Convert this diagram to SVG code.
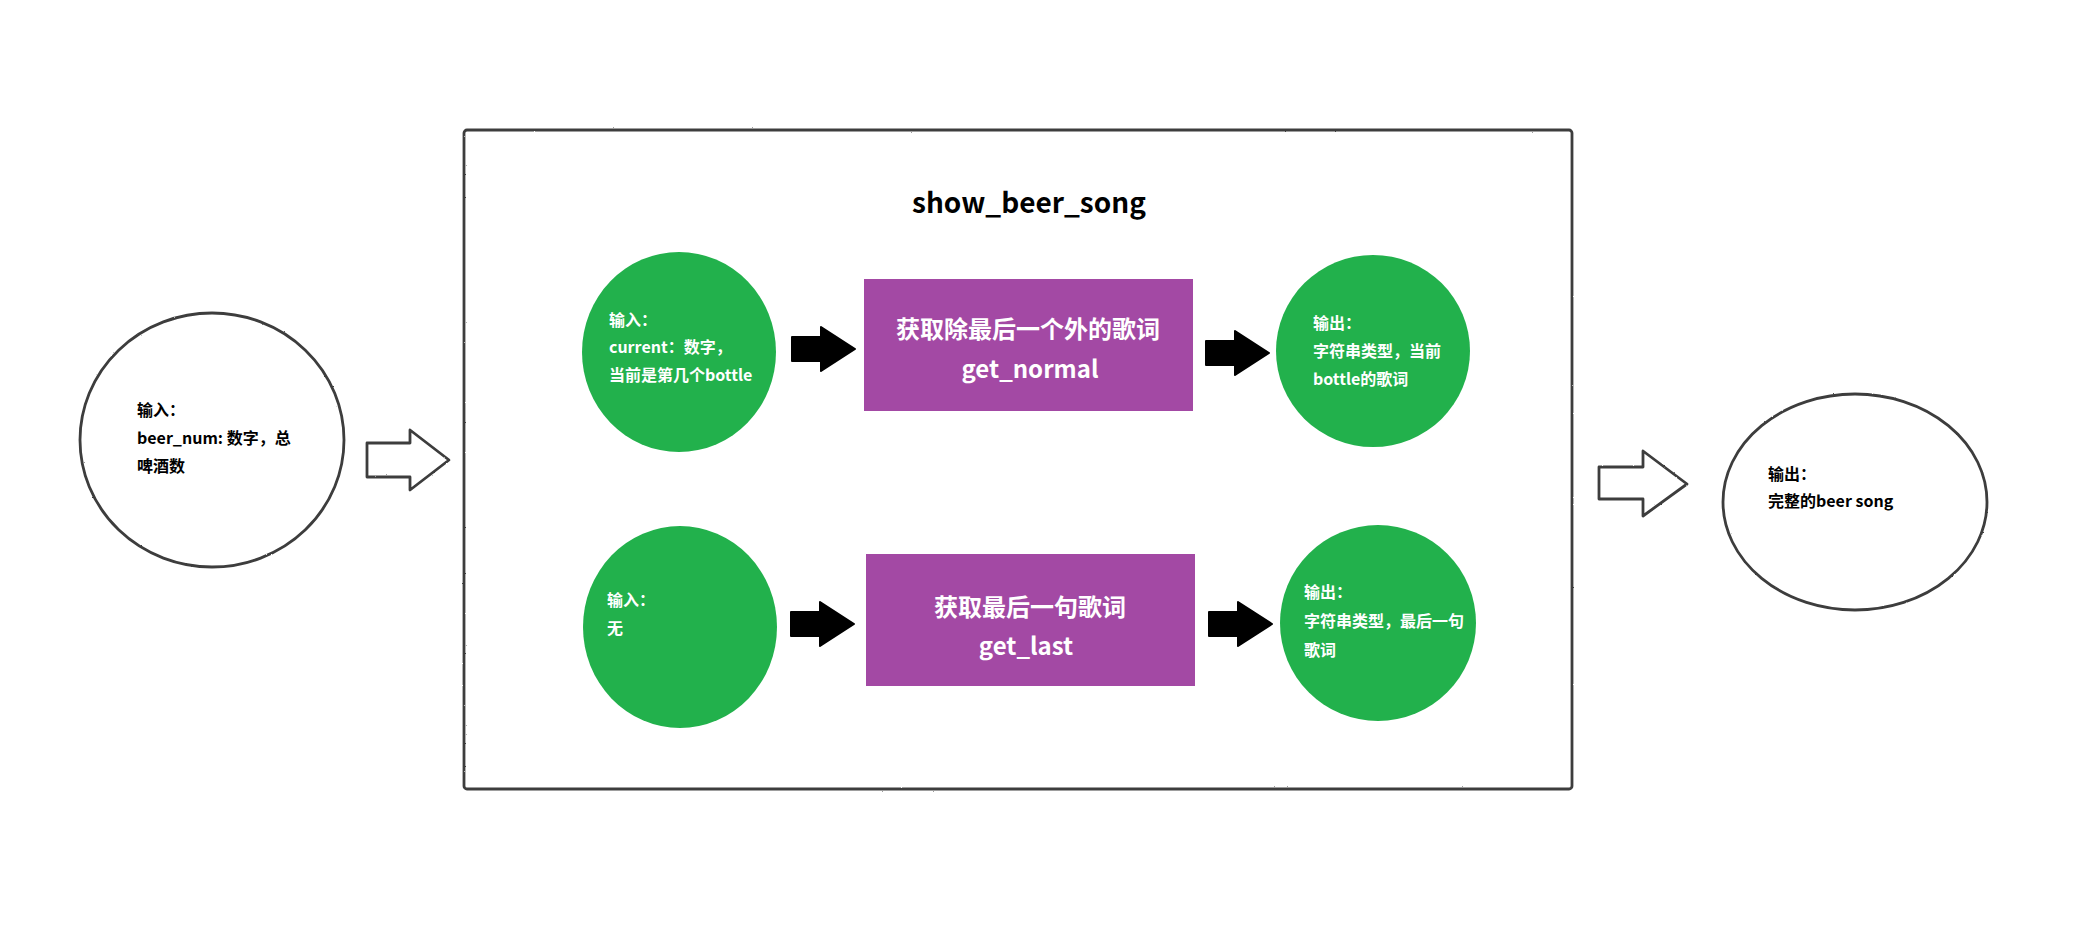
<svg xmlns="http://www.w3.org/2000/svg" xmlns:xlink="http://www.w3.org/1999/xlink" width="2096" height="928" viewBox="0 0 2096 928">
  <style>
    text { font-family: "Microsoft YaHei", "Noto Sans CJK SC", "Noto Sans", sans-serif; font-weight: bold; }
    .sketch { fill: #ffffff; stroke: #3c3c3c; stroke-width: 2.8; filter: url(#rough); }
    .green { fill: #22b14c; }
    .purple { fill: #a349a4; }
    .wt { fill: #ffffff; font-size: 16px; }
    .bt { fill: #000000; font-size: 16px; }
    .pt { fill: #ffffff; font-size: 24px; text-anchor: middle; }
    .title { fill: #000000; font-size: 28px; text-anchor: middle; }
    .blk { fill: #000000; stroke: #000000; stroke-width: 2; stroke-linejoin: round; }
  </style>
  <defs>
    <filter id="rough" x="-5%" y="-5%" width="110%" height="110%">
      <feTurbulence type="fractalNoise" baseFrequency="0.9" numOctaves="2" seed="3" result="n"/>
      <feDisplacementMap in="SourceGraphic" in2="n" scale="1.6" xChannelSelector="R" yChannelSelector="G"/>
    </filter>
    <path id="blackArrow" d="M0,-12 L29,-12 L29,-22 L63,0 L29,22 L29,12 L0,12 Z"/>
  </defs>
  <rect width="2096" height="928" fill="#ffffff"/>

  <g id="container">
    <rect class="sketch" x="464" y="130" width="1108" height="659" rx="3" ry="3"/>
    <text class="title" x="1029" y="213">show_beer_song</text>
  </g>

  <g id="input-main">
    <ellipse class="sketch" cx="212" cy="440" rx="132" ry="127"/>
    <text class="bt" x="137" y="416">输入：</text>
    <text class="bt" x="137" y="444">beer_num: 数字，总</text>
    <text class="bt" x="137" y="472">啤酒数</text>
  </g>

  <g id="output-main">
    <ellipse class="sketch" cx="1855" cy="502" rx="132" ry="108"/>
    <text class="bt" x="1768" y="480">输出：</text>
    <text class="bt" x="1768" y="507">完整的beer song</text>
  </g>

  <g id="normal-input">
    <ellipse class="green" cx="679" cy="352" rx="97" ry="100"/>
    <text class="wt" x="609" y="326">输入：</text>
    <text class="wt" x="609" y="353">current：数字，</text>
    <text class="wt" x="609" y="381">当前是第几个bottle</text>
  </g>

  <g id="get-normal">
    <rect class="purple" x="864" y="279" width="329" height="132"/>
    <text class="pt" x="1028" y="338">获取除最后一个外的歌词</text>
    <text class="pt" x="1030" y="378">get_normal</text>
  </g>

  <g id="normal-output">
    <ellipse class="green" cx="1373" cy="351" rx="97" ry="96"/>
    <text class="wt" x="1313" y="329">输出：</text>
    <text class="wt" x="1313" y="357">字符串类型，当前</text>
    <text class="wt" x="1313" y="385">bottle的歌词</text>
  </g>

  <g id="last-input">
    <ellipse class="green" cx="680" cy="627" rx="97" ry="101"/>
    <text class="wt" x="607" y="606">输入：</text>
    <text class="wt" x="607" y="634">无</text>
  </g>

  <g id="get-last">
    <rect class="purple" x="866" y="554" width="329" height="132"/>
    <text class="pt" x="1030" y="616">获取最后一句歌词</text>
    <text class="pt" x="1026" y="655">get_last</text>
  </g>

  <g id="last-output">
    <ellipse class="green" cx="1378" cy="623" rx="98" ry="98"/>
    <text class="wt" x="1304" y="598">输出：</text>
    <text class="wt" x="1304" y="627">字符串类型，最后一句</text>
    <text class="wt" x="1304" y="656">歌词</text>
  </g>

  <g id="connectors">
    <polygon class="sketch" points="367,443 410,443 410,430 449,460 410,490 410,477 367,477" stroke-linejoin="round"/>
    <polygon class="sketch" points="1599,467 1643,467 1643,451 1687,484 1643,516 1643,499 1599,499" stroke-linejoin="round"/>
    <use xlink:href="#blackArrow" class="blk" x="792" y="349"/>
    <use xlink:href="#blackArrow" class="blk" x="1206" y="353"/>
    <use xlink:href="#blackArrow" class="blk" x="791" y="624"/>
    <use xlink:href="#blackArrow" class="blk" x="1209" y="624"/>
  </g>
</svg>
